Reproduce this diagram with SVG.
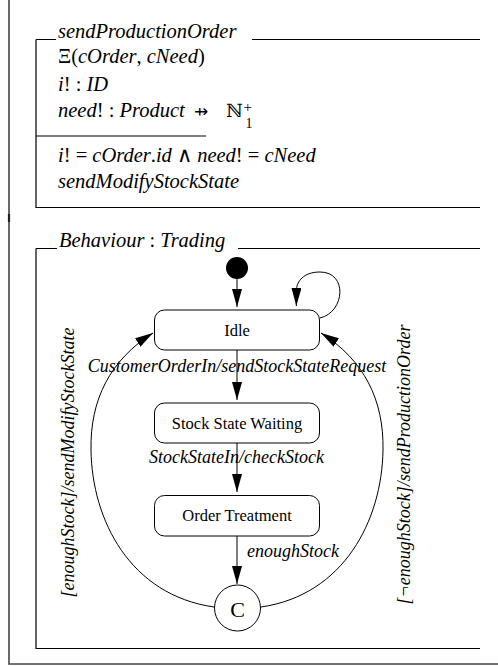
<svg xmlns="http://www.w3.org/2000/svg" width="498" height="666" viewBox="0 0 498 666">
  <style>
    .z { font-size: 20.5px; }
    .it { font-style: italic; }
    .frame { stroke: #444; stroke-width: 1.6; fill: none; }
    .rule { stroke: #000; stroke-width: 1.2; fill: none; }
    .state { fill: #fff; stroke: #000; stroke-width: 1; }
    .sname { font-size: 16.5px; text-anchor: middle; }
    .lbl { font-size: 18px; font-style: italic; }
    .edge { fill: none; stroke: #000; stroke-width: 1; marker-end: url(#arrow); }
  </style>
  <defs>
    <marker id="arrow" viewBox="0 0 18 10" refX="18" refY="5" markerWidth="18" markerHeight="10" markerUnits="userSpaceOnUse" orient="auto">
      <path d="M0,0 L18,5 L0,10 z" fill="#000"/>
    </marker>
  </defs>

  <rect width="498" height="666" fill="#fff"/>

  <!-- page frame -->
  <path class="frame" d="M9 0 V664 H498"/>
  <path d="M9 214 V222" stroke="#222" stroke-width="2.2"/>

  <g font-family="'Liberation Serif', serif" fill="#000">
    <!-- schema: sendProductionOrder -->
    <g id="schema-sendProductionOrder">
      <path class="rule" d="M36 39.5 H56 M252 39.5 H480 M36 39.5 V207.5 H480 M36 136 H206"/>
      <text class="z it" x="58" y="38">sendProductionOrder</text>
      <text class="z" x="58" y="63">Ξ(<tspan class="it">cOrder</tspan>, <tspan class="it">cNeed</tspan>)</text>
      <text class="z" x="58" y="90.5"><tspan class="it">i</tspan>! : <tspan class="it">ID</tspan></text>
      <text class="z" x="58" y="117"><tspan class="it">need</tspan>! : <tspan class="it">Product</tspan></text>
      <text x="194" y="117" font-family="'DejaVu Sans', sans-serif" font-size="17">⇸</text>
      <text x="226" y="117" font-family="'DejaVu Serif', serif" font-size="18.5">ℕ</text>
      <text x="243.5" y="112" font-size="15">+</text>
      <text x="245.5" y="128" font-size="14">1</text>
      <text class="z" x="58" y="161.5"><tspan class="it">i</tspan>! = <tspan class="it">cOrder</tspan>.<tspan class="it">id</tspan> ∧ <tspan class="it">need</tspan>! = <tspan class="it">cNeed</tspan></text>
      <text class="z it" x="58" y="188">sendModifyStockState</text>
    </g>

    <!-- behaviour frame -->
    <g id="behaviour-Trading">
      <path class="rule" d="M36 248.5 H57 M238 248.5 H480 M36 248.5 V648.5 H480"/>
      <text class="z" x="59" y="246.5"><tspan class="it">Behaviour</tspan> : <tspan class="it">Trading</tspan></text>
    </g>

    <!-- connectors -->
    <g id="connectors">
      <path class="edge" d="M237 279 V307"/>
      <path class="edge" d="M320 318 C345 312, 348 272, 320 272 C303 272, 297 282, 296.5 289 L296.3 306"/>
      <path class="edge" d="M237 350 V400"/>
      <path class="edge" d="M237 443 V492"/>
      <path class="edge" d="M237 536 V584"/>
      <path class="edge" d="M214 607 C130 595, 92 520, 91 450 C90 400, 110 360, 153 333"/>
      <path class="edge" d="M261 607 C344 595, 382 520, 383 450 C384 400, 364 360, 321 333"/>
      <text class="lbl" x="237" y="371.5" text-anchor="middle">CustomerOrderIn/sendStockStateRequest</text>
      <text class="lbl" x="236.5" y="463" text-anchor="middle">StockStateIn/checkStock</text>
      <text class="lbl" x="247" y="556.5">enoughStock</text>
      <text class="lbl" transform="translate(73.5 462.5) rotate(-90)" text-anchor="middle">[enoughStock]/sendModifyStockState</text>
      <text class="lbl" transform="translate(410 464.5) rotate(-90)" text-anchor="middle">[¬enoughStock]/sendProductionOrder</text>
    </g>

    <!-- states -->
    <g id="initial">
      <circle cx="237" cy="268" r="11" fill="#000"/>
    </g>
    <g id="idle">
      <rect class="state" x="154.5" y="310" width="165" height="40" rx="10"/>
      <text class="sname" x="237" y="335.5">Idle</text>
    </g>
    <g id="stock-state-waiting">
      <rect class="state" x="154.5" y="403" width="165" height="40" rx="10"/>
      <text class="sname" x="237" y="428.5">Stock State Waiting</text>
    </g>
    <g id="order-treatment">
      <rect class="state" x="154.5" y="495.5" width="165" height="40.5" rx="10"/>
      <text class="sname" x="237" y="521">Order Treatment</text>
    </g>
    <g id="choice-C">
      <circle class="state" cx="237.5" cy="608" r="23"/>
      <text x="237.5" y="617" font-size="22" text-anchor="middle">C</text>
    </g>
  </g>
</svg>
